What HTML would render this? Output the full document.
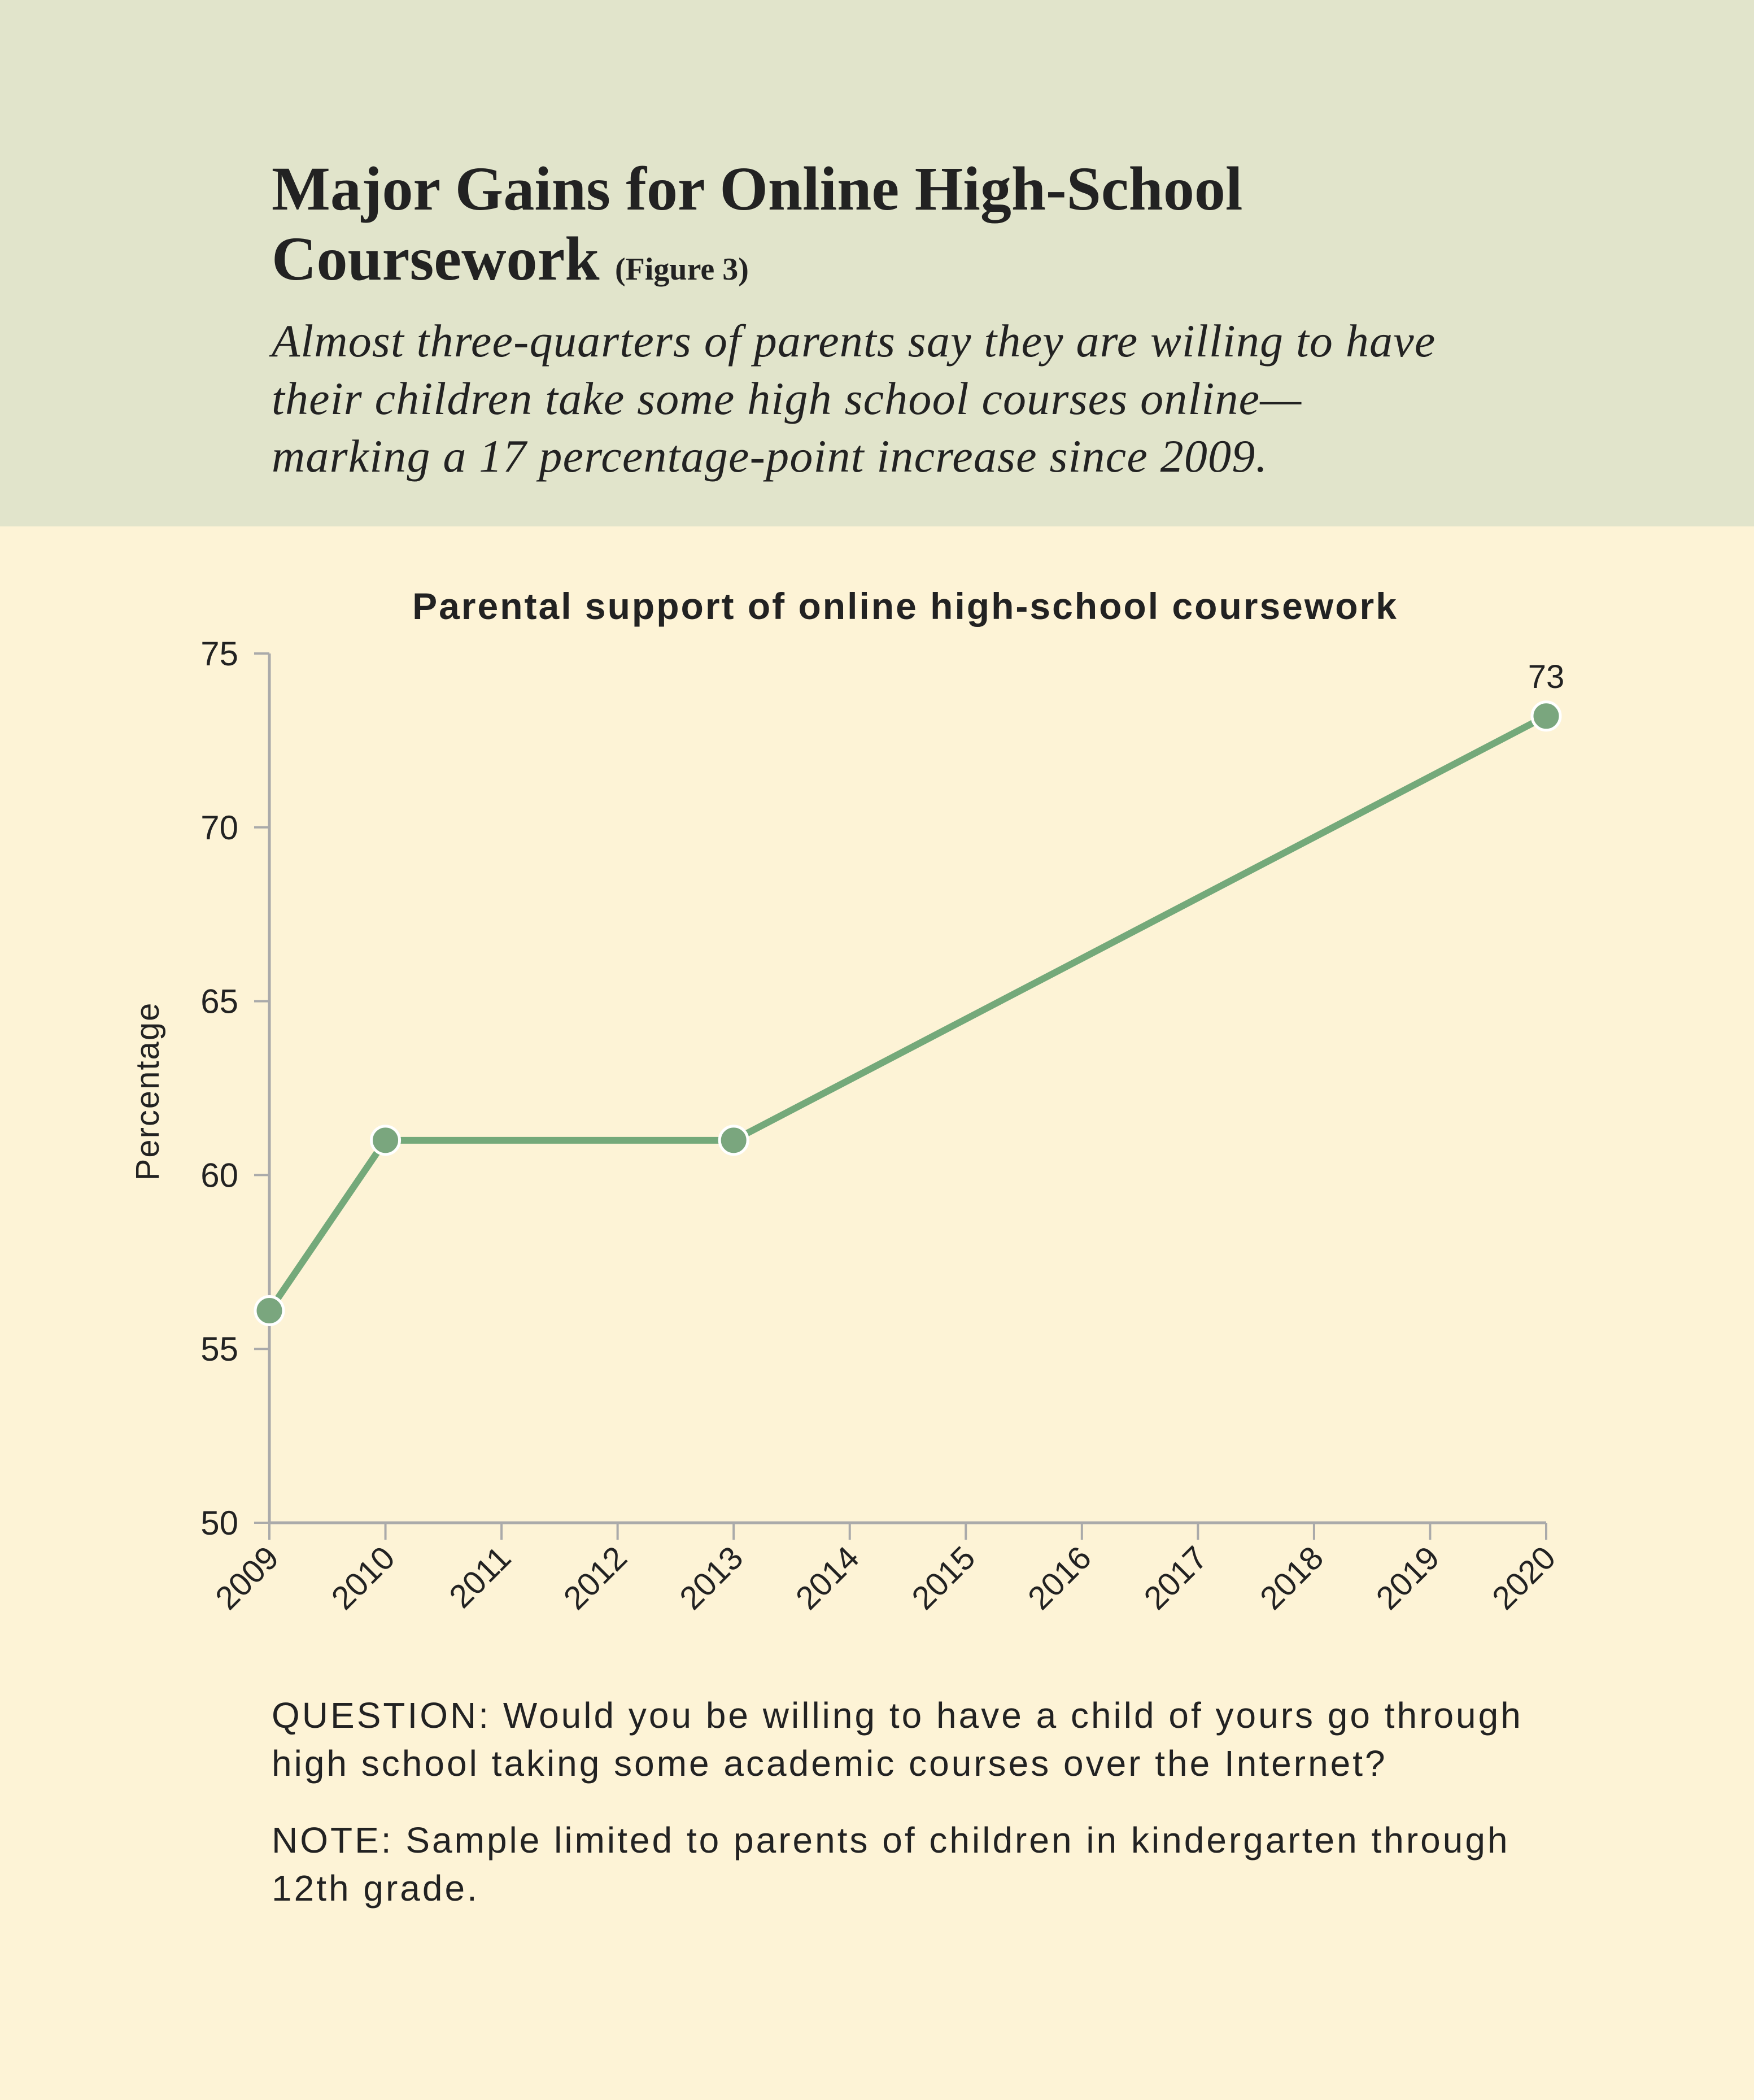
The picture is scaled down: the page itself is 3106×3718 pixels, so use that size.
<!DOCTYPE html>
<html><head><meta charset="utf-8">
<style>
html,body{margin:0;padding:0}
body{width:3106px;height:3718px;background:#fdf3d6;position:relative;overflow:hidden}
.hdr{position:absolute;left:0;top:0;width:3106px;height:932px;background:#e1e4cb}
.t{position:absolute;left:481px;font-family:"Liberation Serif",serif;font-weight:bold;color:#222;font-size:110px;line-height:124px;top:272px}
.t small{font-size:56px}
.s{position:absolute;left:481px;top:553px;font-family:"Liberation Serif",serif;font-style:italic;color:#222;font-size:82px;line-height:102px;letter-spacing:1.2px}
.n{position:absolute;left:481px;font-family:"Liberation Sans",sans-serif;color:#222;font-size:64px;line-height:85px;letter-spacing:4px}
</style></head><body>
<div class="hdr"></div>
<div class="t">Major Gains for Online High-School<br>Coursework <small>(Figure 3)</small></div>
<div class="s">Almost three-quarters of parents say they are willing to have<br>their children take some high school courses online—<br>marking a 17 percentage-point increase since 2009.</div>
<svg id="c" width="3106" height="3718" style="position:absolute;left:0;top:0"></svg>
<div class="n" style="top:2995px">QUESTION: Would you be willing to have a child of yours go through<br>high school taking some academic courses over the Internet?</div>
<div class="n" style="top:3216px">NOTE: Sample limited to parents of children in kindergarten through<br>12th grade.</div>
<script>
const years=[2009,2010,2011,2012,2013,2014,2015,2016,2017,2018,2019,2020];
const ptYears=[2009,2010,2013,2020];
const ptVals=[56.1,61,61,73.2];
const yTicks=[50,55,60,65,70,75];
const ns="http://www.w3.org/2000/svg",svg=document.getElementById('c');
const X=y=>477+(y-2009)*(2738-477)/11, Y=v=>2696-(v-50)*(2696-1157)/25;
function el(t,a,txt){const e=document.createElementNS(ns,t);for(const k in a)e.setAttribute(k,a[k]);if(txt!=null)e.textContent=txt;svg.appendChild(e);return e;}
const F='"Liberation Sans",sans-serif';
let e=el('text',{x:1603,y:1096,'text-anchor':'middle','font-family':F,'font-weight':'bold','font-size':66,'letter-spacing':3,fill:'#222'},'Parental support of online high-school coursework');

e=el('line',{x1:477,y1:1157,x2:477,y2:2696,stroke:'#aaa','stroke-width':5});

e=el('line',{x1:477,y1:2696,x2:2738,y2:2696,stroke:'#aaa','stroke-width':5});

yTicks.forEach(v=>{
 e=el('line',{x1:450,y1:Y(v),x2:477,y2:Y(v),stroke:'#aaa','stroke-width':4});
 
 e=el('text',{x:422,y:Y(v)+21,'text-anchor':'end','font-family':F,'font-size':60,fill:'#222'},v);
 
});
years.forEach(y=>{
 e=el('line',{x1:X(y),y1:2696,x2:X(y),y2:2726,stroke:'#aaa','stroke-width':4});
 
 e=el('text',{x:X(y)+20,y:2762,'text-anchor':'end','font-family':F,'font-size':58,fill:'#222',transform:`rotate(-45 ${X(y)+20} 2762)`},y);
 
});
e=el('text',{x:0,y:0,'text-anchor':'middle','font-family':F,'font-size':58,'letter-spacing':2,fill:'#222',transform:'translate(281 1932) rotate(-90)'},'Percentage');

e=el('polyline',{points:ptYears.map((y,i)=>X(y)+','+Y(ptVals[i])).join(' '),fill:'none',stroke:'#74a97a','stroke-width':12,'stroke-linejoin':'round'});

ptYears.forEach((y,i)=>{
 e=el('circle',{cx:X(y),cy:Y(ptVals[i]),r:25,fill:'#7aa67e',stroke:'#fff','stroke-width':5});
 
});
const li=ptVals.length-1;
e=el('text',{x:X(ptYears[li]),y:Y(ptVals[li])-50,'text-anchor':'middle','font-family':F,'font-size':58,fill:'#222'},Math.round(ptVals[li]));

</script>
</body></html>
